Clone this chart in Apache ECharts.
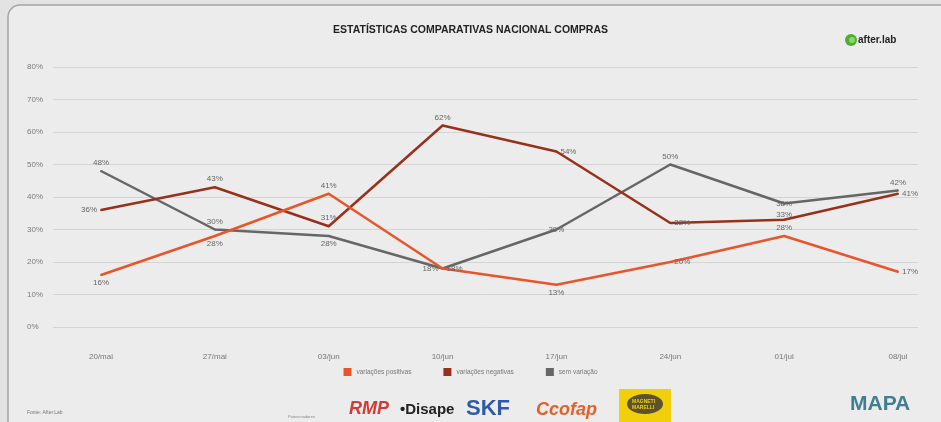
<!DOCTYPE html>
<html>
<head>
<meta charset="utf-8">
<script src="https://cdn.jsdelivr.net/npm/echarts@6/dist/echarts.min.js"></script>
<style>
html,body{margin:0;padding:0;background:#e3e3e3;}
#c{width:941px;height:422px;}
</style>
</head>
<body>
<div id="c"></div>
<script>
const categories = ['20/mai','27/mai','03/jun','10/jun','17/jun','24/jun','01/jul','08/jul'];
const positivas = [16, 28, 41, 18, 13, 20, 28, 17];
const negativas = [36, 43, 31, 62, 54, 32, 33, 41];
const semVariacao = [48, 30, 28, 18, 30, 50, 38, 42];
const seriesNames = ['variações positivas','variações negativas','sem variação'];
const yTicks = [0, 10, 20, 30, 40, 50, 60, 70, 80];

const posLabelPos = ['bottom','bottom','top','right','bottom','right','top','right'];
const negLabelPos = ['left','top','top','top','right','right','top','right'];
const grayLabelPos = ['top','top','bottom','left','inside','top','inside','top'];
const negLabelDist = [3, 3, 3, 3, 3, 3, 0, 3];

function build(vals, pos, dist) {
  return vals.map((v, i) => ({
    value: v,
    label: { position: pos[i], distance: dist ? dist[i] : 3 }
  }));
}

const labelStyle = {
  show: true, color: '#666', fontSize: 8, fontFamily: 'Liberation Sans',
  formatter: p => p.value + '%', distance: 3
};

function lineSeries(idx, vals, pos, color, z, dist) {
  return {
    name: seriesNames[idx], type: 'line', xAxisIndex: 1, yAxisIndex: 1,
    data: build(vals, pos, dist),
    symbol: 'circle', symbolSize: 2, showSymbol: true,
    color: color, itemStyle: { color: color },
    lineStyle: { width: 2.5, color: color },
    label: labelStyle, z: z
  };
}

const chart = echarts.init(document.getElementById('c'), null, {renderer: 'canvas'});
const option = {
  backgroundColor: '#e3e3e3',
  animation: false,
  graphic: [
    { type: 'rect', z: -10, shape: { x: 8, y: 5, width: 980, height: 460, r: 12 },
      style: { fill: '#ececec', stroke: '#a4a4a4', lineWidth: 1.5 } },
    { type: 'text', left: 'center', top: 25, style: { text: 'ESTATÍSTICAS COMPARATIVAS NACIONAL COMPRAS',
      font: 'bold 10.5px "Liberation Sans"', fill: '#222' } },
    { type: 'circle', shape: { cx: 851, cy: 40, r: 6 }, style: { fill: '#4fae32' } },
    { type: 'circle', shape: { cx: 852, cy: 40, r: 3 }, style: { fill: '#8ad86a' } },
    { type: 'text', x: 858, y: 35, style: { text: 'after.lab', font: 'bold 10px "Liberation Sans"', fill: '#222' } },
    { type: 'text', x: 27, y: 410, style: { text: 'Fonte: After.Lab', font: '5px "Liberation Sans"', fill: '#777' } },
    { type: 'text', x: 288, y: 415, style: { text: 'Patrocinadores', font: '4px "Liberation Sans"', fill: '#888' } },
    { type: 'text', x: 349, y: 400, style: { text: 'RMP', font: 'italic bold 18px "Liberation Sans"', fill: '#d33a35' } },
    { type: 'text', x: 400, y: 402, style: { text: '•Disape', font: 'bold 15px "Liberation Sans"', fill: '#222' } },
    { type: 'text', x: 466, y: 398, style: { text: 'SKF', font: 'bold 22px "Liberation Sans"', fill: '#2f5aa8' } },
    { type: 'text', x: 536, y: 401, style: { text: 'Ccofap', font: 'italic bold 18px "Liberation Sans"', fill: '#e0622a' } },
    { type: 'rect', shape: { x: 619, y: 389, width: 52, height: 34 }, style: { fill: '#f1cf0a' } },
    { type: 'ellipse', shape: { cx: 645, cy: 404, rx: 18, ry: 10 }, style: { fill: '#5a5230' } },
    { type: 'text', x: 632, y: 399, style: { text: 'MAGNETI\nMARELLI', font: 'bold 5px "Liberation Sans"', fill: '#f1cf0a', lineHeight: 6 } },
    { type: 'text', x: 850, y: 394, style: { text: 'MAPA', font: 'bold 21px "Liberation Sans"', fill: '#3f7f8f' } }
  ],
  legend: {
    bottom: 41, left: 'center',
    itemWidth: 8, itemHeight: 8, itemGap: 32, icon: 'rect',
    textStyle: { fontSize: 6.5, color: '#777', fontFamily: 'Liberation Sans' },
    data: seriesNames
  },
  grid: [
    { left: 53, right: 23, top: 67, bottom: 95 },
    { left: 101, right: 43, top: 67, bottom: 95 }
  ],
  xAxis: [
    { gridIndex: 0, type: 'category', data: categories, show: false },
    { gridIndex: 1, type: 'category', data: categories, boundaryGap: false,
      axisLine: { show: false }, axisTick: { show: false },
      axisLabel: { color: '#777', fontSize: 8, margin: 26, fontFamily: 'Liberation Sans' } }
  ],
  yAxis: [
    { gridIndex: 0, type: 'value', min: yTicks[0], max: yTicks[yTicks.length - 1], interval: 10,
      axisLabel: { formatter: '{value}%', color: '#7a7a7a', fontSize: 8, align: 'left', margin: 26, fontFamily: 'Liberation Sans' },
      splitLine: { lineStyle: { color: '#d4d4d4', width: 1 } }, axisLine: { show: false }, axisTick: { show: false } },
    { gridIndex: 1, type: 'value', min: yTicks[0], max: yTicks[yTicks.length - 1], interval: 10, show: false,
      splitLine: { show: false } }
  ],
  series: [
    lineSeries(0, positivas, posLabelPos, '#e9552b', 3),
    lineSeries(1, negativas, negLabelPos, '#98311c', 2, negLabelDist),
    lineSeries(2, semVariacao, grayLabelPos, '#666666', 1)
  ]
};
chart.setOption(option);
</script>
</body>
</html>
